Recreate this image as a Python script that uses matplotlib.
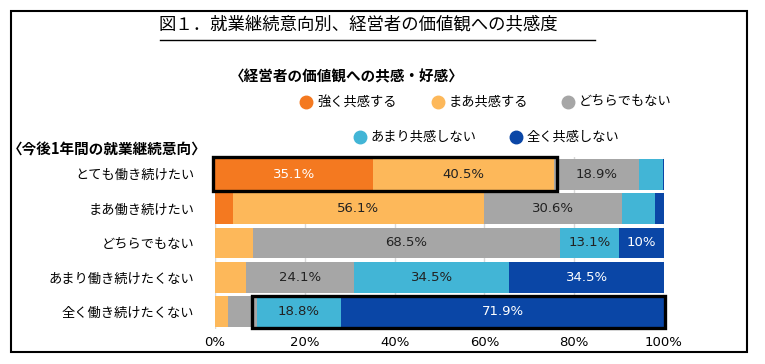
import matplotlib.pyplot as plt
import numpy as np
from matplotlib.patches import Rectangle
from matplotlib.lines import Line2D

plt.rcParams['font.family'] = ['Noto Sans CJK JP', 'DejaVu Sans']

# rows (top to bottom) and answer categories
rows = ['とても働き続けたい', 'まあ働き続けたい', 'どちらでもない',
        'あまり働き続けたくない', '全く働き続けたくない']
cats = ['強く共感する', 'まあ共感する', 'どちらでもない', 'あまり共感しない', '全く共感しない']
colors = ['#F47920', '#FDB85A', '#A6A6A6', '#42B5D6', '#0A46A6']
label_colors = ['white', '#222222', '#222222', '#222222', 'white']

strong = [35.1, 3.9, 0.0, 0.0, 0.0]
fair = [40.5, 56.1, 8.4, 6.9, 3.0]
neutral = [18.9, 30.6, 68.5, 24.1, 6.3]
little = [5.3, 7.5, 13.1, 34.5, 18.8]
none_ = [0.2, 1.9, 10.0, 34.5, 71.9]
values = np.array([strong, fair, neutral, little, none_])

xticks = [0, 20, 40, 60, 80, 100]
xticklabels = ['0%', '20%', '40%', '60%', '80%', '100%']

W, H = 765, 364
fig = plt.figure(figsize=(W / 100, H / 100), dpi=100)

def fx(x):
    return x / W

def fy(y):
    return 1 - y / H

ax = fig.add_axes([fx(215), fy(329), fx(664) - fx(215), fy(157) - fy(329)])

y = np.arange(len(rows))
left = np.zeros(len(rows))
for i in range(len(cats)):
    ax.barh(y, values[i], left=left, height=0.9, color=colors[i], zorder=2)
    for j in range(len(rows)):
        v = values[i][j]
        if v >= 10:
            ax.text(left[j] + v / 2, y[j], f'{v:g}%', ha='center', va='center',
                    fontsize=9.5, color=label_colors[i], family=['DejaVu Sans'], zorder=4)
    left += values[i]

# highlight boxes
ax.add_patch(Rectangle((-0.4, -0.5), strong[0] + fair[0] + 1.0, 1.0, fill=False,
                       edgecolor='black', lw=2.4, zorder=5, clip_on=False))
s5 = fair[4] + neutral[4]
ax.add_patch(Rectangle((s5 - 1.0, 3.55), 100 - s5 + 1.2, 0.93, fill=False,
                       edgecolor='black', lw=2.4, zorder=5, clip_on=False))

ax.set_xlim(0, 100)
ax.set_ylim(len(rows) - 0.5, -0.5)
ax.set_xticks(xticks)
ax.set_xticklabels(xticklabels, fontsize=9.5, family=['DejaVu Sans'])
ax.set_yticks(y)
ax.set_yticklabels(rows, fontsize=9.5)
ax.tick_params(length=0, pad=5)
ax.tick_params(axis='y', pad=15)
ax.grid(axis='x', color='#D9D9D9', lw=1, zorder=0)
for s in ax.spines.values():
    s.set_visible(False)

# outer frame
fig.add_artist(Rectangle((fx(11), fy(352)), fx(747) - fx(11), fy(11) - fy(352),
                         transform=fig.transFigure, fill=False, edgecolor='black', lw=1.5))

# title
fig.text(fx(158), fy(25), '図１．就業継続意向別、経営者の価値観への共感度',
         ha='left', va='center', fontsize=12.5)
fig.add_artist(Line2D([fx(160), fx(595)], [fy(40), fy(40)], transform=fig.transFigure,
                      color='black', lw=1))

# legend
fig.text(fx(230), fy(76), '〈経営者の価値観への共感・好感〉', ha='left', va='center',
         fontsize=10.5, fontweight='bold')
fig.text(fx(8), fy(150), '〈今後1年間の就業継続意向〉', ha='left', va='center',
         fontsize=10.5, fontweight='bold')
leg_pos = [(306, 102), (438, 102), (568, 102), (360, 137), (516, 137)]
for (px, py), c, lab in zip(leg_pos, colors, cats):
    fig.add_artist(Line2D([fx(px)], [fy(py)], transform=fig.transFigure, marker='o',
                          markersize=9, color=c, linestyle='none'))
    fig.text(fx(px + 11), fy(py), lab, ha='left', va='center', fontsize=9.5)

fig.savefig('out.png', dpi=100)
